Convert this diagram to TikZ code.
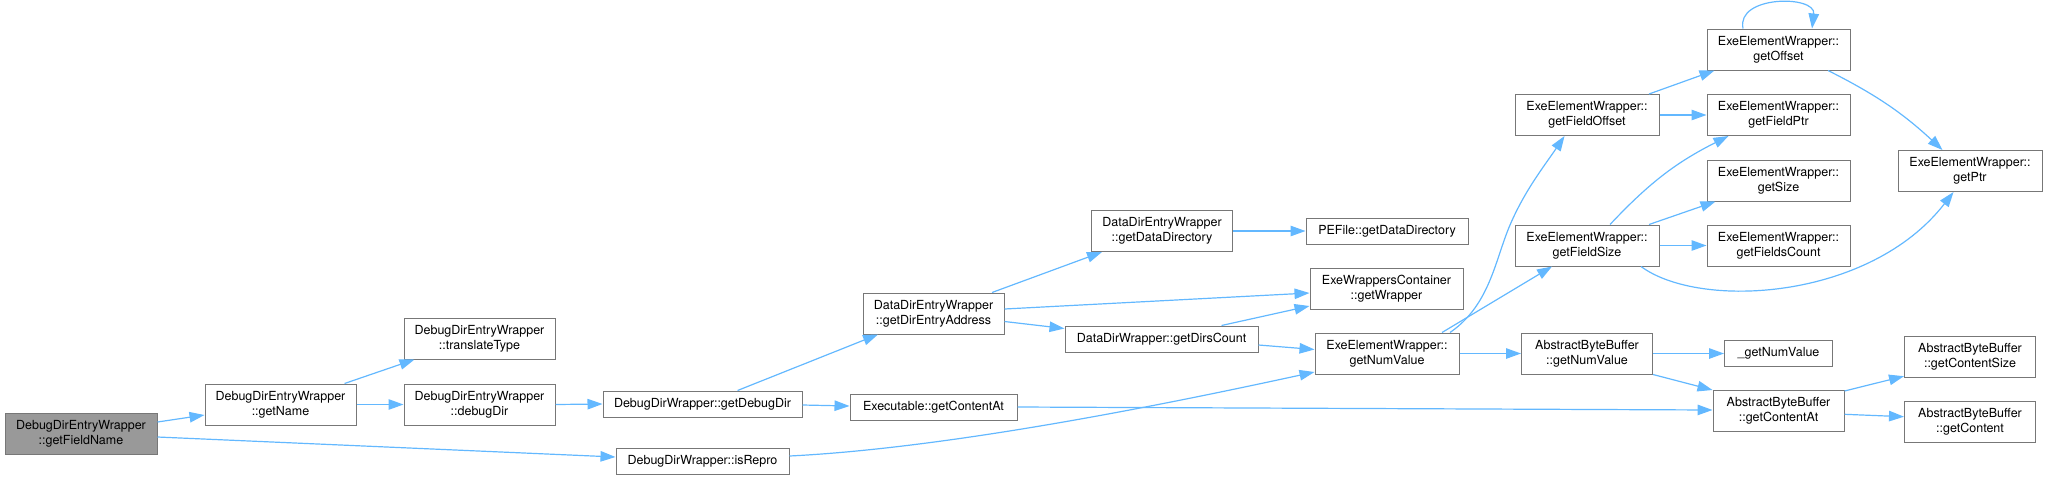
\documentclass[tikz,border=0pt]{standalone}
\usepackage{fontspec}
\setmainfont{TeX Gyre Heros}
\usepackage{tikz}
\usetikzlibrary{arrows.meta,calc}
\definecolor{cgedge}{HTML}{63B8FF}
\definecolor{cgline}{HTML}{777777}
\definecolor{cgroot}{HTML}{999999}

\begin{document}
\begin{tikzpicture}[
  x=1pt, y=-1pt,
  font=\fontsize{12.5}{15}\selectfont,
  >={Triangle[length=15pt,width=10.5pt]},
  fn/.style={draw=cgline, fill=white, line width=1pt, inner sep=0pt,
             minimum height=41pt, align=center},
  fnone/.style={fn, minimum height=26pt},
  root/.style={fn, fill=cgroot},
  call/.style={draw=cgedge, line width=1.2pt, ->},
]
\useasboundingbox (0,0) rectangle (2047,480);

\newcommand{\fnnode}[6]{\node[#1, minimum width=#5pt] (#2) at (#3,#4) {#6};}

% ---- caller ----
\fnnode{root}{fieldname}{81}{433.5}{152}{DebugDirEntryWrapper\\::getFieldName}

% ---- DebugDir* ----
\fnnode{fn}{getname}{280.5}{404.5}{151}{DebugDirEntryWrapper\\::getName}
\fnnode{fn}{translate}{479.5}{338.5}{151}{DebugDirEntryWrapper\\::translateType}
\fnnode{fn}{debugdir}{479.5}{404.5}{151}{DebugDirEntryWrapper\\::debugDir}
\fnnode{fnone}{getdebugdir}{702.5}{404}{199}{DebugDirWrapper::getDebugDir}
\fnnode{fnone}{isrepro}{702.5}{461.5}{173}{DebugDirWrapper::isRepro}

% ---- DataDir* / Executable ----
\fnnode{fn}{direntry}{933.5}{313.5}{141}{DataDirEntryWrapper\\::getDirEntryAddress}
\fnnode{fnone}{execontent}{933.5}{407}{167}{Executable::getContentAt}
\fnnode{fn}{datadir}{1162}{231}{141}{DataDirEntryWrapper\\::getDataDirectory}
\fnnode{fnone}{dirscount}{1161.5}{339}{193}{DataDirWrapper::getDirsCount}
\fnnode{fnone}{pefile}{1387}{231}{162}{PEFile::getDataDirectory}
\fnnode{fn}{wrapper}{1386.5}{288.5}{153}{ExeWrappersContainer\\::getWrapper}
\fnnode{fn}{numvalue}{1387}{353.5}{144}{ExeElementWrapper::\\getNumValue}

% ---- ExeElementWrapper ----
\fnnode{fn}{fieldoffset}{1587}{115}{144}{ExeElementWrapper::\\getFieldOffset}
\fnnode{fn}{fieldsize}{1587}{245.5}{144}{ExeElementWrapper::\\getFieldSize}
\fnnode{fn}{offset}{1778.5}{49.5}{143}{ExeElementWrapper::\\getOffset}
\fnnode{fn}{fieldptr}{1778.5}{115}{143}{ExeElementWrapper::\\getFieldPtr}
\fnnode{fn}{size}{1778.5}{180.5}{143}{ExeElementWrapper::\\getSize}
\fnnode{fn}{fieldscount}{1778.5}{245.5}{143}{ExeElementWrapper::\\getFieldsCount}
\fnnode{fn}{ptr}{1970}{171}{144}{ExeElementWrapper::\\getPtr}

% ---- AbstractByteBuffer ----
\fnnode{fn}{abbnum}{1587}{353.5}{131}{AbstractByteBuffer\\::getNumValue}
\fnnode{fnone}{getnumraw}{1778.5}{353.5}{108}{\_getNumValue}
\fnnode{fn}{abbcontentat}{1778.5}{411}{131}{AbstractByteBuffer\\::getContentAt}
\fnnode{fn}{contentsize}{1970}{356.5}{131}{AbstractByteBuffer\\::getContentSize}
\fnnode{fn}{content}{1970}{421.5}{131}{AbstractByteBuffer\\::getContent}

% ---- straight calls ----
\foreach \a/\b in {getname/debugdir, debugdir/getdebugdir, datadir/pefile,
                   numvalue/abbnum, fieldoffset/fieldptr, fieldsize/fieldscount,
                   abbnum/getnumraw}{
  \draw[call] (\a.east) -- (\b.west);
}

% ---- slanted calls ----
\draw[call] ([yshift=11.5pt]fieldname.east) -- ([yshift=-10.5pt]getname.west);
\draw[call] ([yshift=-3.5pt]fieldname.east) -- ([yshift=4.5pt]isrepro.west);
\draw[call] ([xshift=64pt]getname.north) -- ([xshift=-65pt]translate.south);
\draw[call] ([xshift=35pt]getdebugdir.north) -- ([xshift=-55.5pt]direntry.south);
\draw[call] ([yshift=-1pt]getdebugdir.east) -- ([yshift=1pt]execontent.west);
\draw[call] ([xshift=58.5pt]direntry.north) -- ([xshift=-60pt]datadir.south);
\draw[call] ([yshift=4.5pt]direntry.east) -- ([yshift=-4.5pt]wrapper.west);
\draw[call] ([yshift=-8pt]direntry.east) -- ([yshift=10.5pt]dirscount.west);
\draw[call] ([xshift=60pt]dirscount.north) -- ([yshift=-17.5pt]wrapper.west);
\draw[call] ([yshift=-6pt]dirscount.east) -- ([yshift=4pt]numvalue.west);
\draw[call] (execontent.east) -- ([yshift=1pt]abbcontentat.west);
\draw[call] ([xshift=55pt]numvalue.north) -- ([xshift=-35pt]fieldsize.south);
\draw[call] (abbnum.south east) -- (abbcontentat.north west);
\draw[call] ([xshift=62pt]fieldoffset.north) -- ([xshift=-64pt]offset.south);
\draw[call] ([xshift=62pt]fieldsize.north) -- ([xshift=-63pt]size.south);
\draw[call] ([yshift=-1pt]abbcontentat.north east) -- ([yshift=1.3pt]contentsize.south west);
\draw[call] ([yshift=-3.3pt]abbcontentat.east) -- ([yshift=4.8pt]content.west);

% ---- curved calls ----
\draw[call] ([yshift=5.5pt]isrepro.east) .. controls (950,448) and (1165,404.5) .. ([yshift=-18.5pt]numvalue.west);
\draw[call] ([xshift=63pt]numvalue.north) .. controls (1490,305) and (1495,260) .. (1510,225)
  .. controls (1525,190) and (1545,165) .. ([xshift=-22.5pt]fieldoffset.south);
\draw[call] ([xshift=-35.5pt]offset.north) .. controls (1736,-5) and (1816,-5) .. ([xshift=33.5pt]offset.north);
\draw[call] ([xshift=49.5pt]offset.south) to[bend left=8] ([xshift=-27.5pt]ptr.north);
\draw[call] ([xshift=23pt]fieldsize.north) to[bend left=10] ([xshift=-50pt]fieldptr.south);
\draw[call] ([xshift=54pt]fieldsize.south) .. controls (1700,310) and (1870,300) .. ([xshift=-16.5pt]ptr.south);

\end{tikzpicture}
\end{document}
